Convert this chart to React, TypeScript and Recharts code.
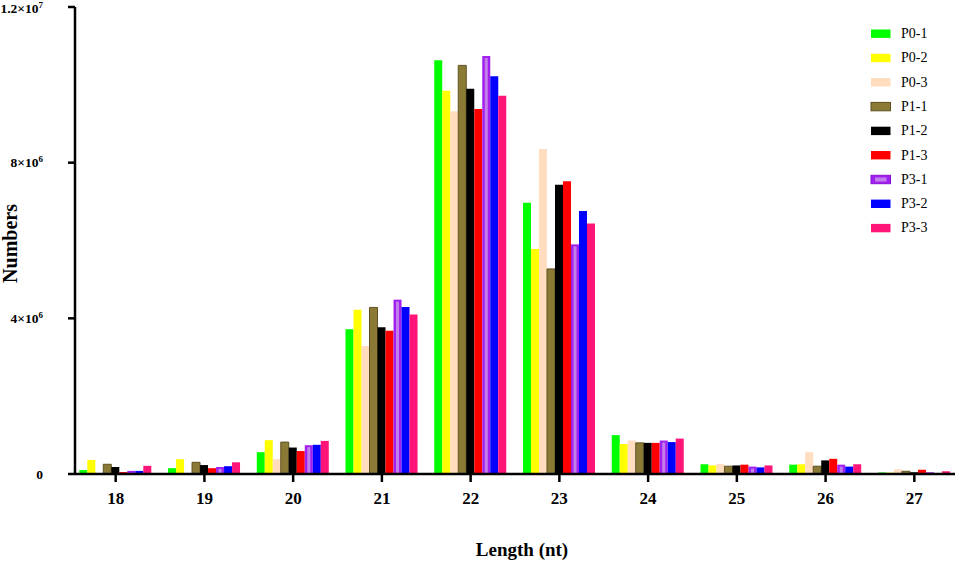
import React from 'react';
import { BarChart, Bar, XAxis, YAxis } from 'recharts';

// 길이별(nt) small RNA read 수 - 샘플 9개
const LENGTHS = ['18', '19', '20', '21', '22', '23', '24', '25', '26', '27'];

const P0_1 = [100000, 150000, 560000, 3720000, 10630000, 6970000, 1000000, 250000, 240000, 40000];
const P0_2 = [360000, 380000, 870000, 4220000, 9850000, 5780000, 770000, 220000, 250000, 35000];
const P0_3 = [10000, 10000, 380000, 3290000, 9320000, 8350000, 860000, 260000, 560000, 120000];
const P1_1 = [250000, 300000, 820000, 4280000, 10500000, 5270000, 800000, 200000, 200000, 70000];
const P1_2 = [180000, 230000, 680000, 3770000, 9900000, 7430000, 800000, 220000, 350000, 45000];
const P1_3 = [50000, 150000, 590000, 3680000, 9380000, 7520000, 800000, 240000, 390000, 110000];
const P3_1 = [80000, 180000, 740000, 4480000, 10740000, 5900000, 860000, 190000, 240000, 45000];
const P3_2 = [80000, 200000, 750000, 4290000, 10220000, 6760000, 820000, 170000, 190000, 20000];
const P3_3 = [210000, 300000, 850000, 4100000, 9720000, 6440000, 910000, 220000, 250000, 70000];

const SERIES = [
  { key: 'P0-1', values: P0_1, color: '#00FF00' },
  { key: 'P0-2', values: P0_2, color: '#FFFF00' },
  { key: 'P0-3', values: P0_3, color: '#FFDDBE' },
  { key: 'P1-1', values: P1_1, color: '#8B7A36' },
  { key: 'P1-2', values: P1_2, color: '#000000' },
  { key: 'P1-3', values: P1_3, color: '#FF0000' },
  { key: 'P3-1', values: P3_1, color: '#A020F0' },
  { key: 'P3-2', values: P3_2, color: '#0000FF' },
  { key: 'P3-3', values: P3_3, color: '#FF1478' },
];

const Y_TICKS = [0, 4000000, 8000000, 12000000];

const data = LENGTHS.map((len, i) => {
  const row: any = { length: len };
  SERIES.forEach((s) => { row[s.key] = s.values[i]; });
  return row;
});

const FONT = '"Liberation Serif", "Times New Roman", serif';

const YTick = (props: any) => {
  const { x, y, payload } = props;
  const v = payload.value;
  let body: React.ReactNode = '0';
  if (v === 4000000) body = <>4×10<tspan dy={-5} fontSize={9}>6</tspan></>;
  if (v === 8000000) body = <>8×10<tspan dy={-5} fontSize={9}>6</tspan></>;
  if (v === 12000000) body = <>1.2×10<tspan dy={-5} fontSize={9}>7</tspan></>;
  return (
    <text x={x} y={y + (v === 12000000 ? 5.5 : 4.5)} textAnchor="end" fontFamily={FONT} fontSize={13.5} fontWeight="bold" fill="#000">
      {body}
    </text>
  );
};

const XTick = (props: any) => {
  const { x, y, payload } = props;
  return (
    <text x={x} y={y + 20} textAnchor="middle" fontFamily={FONT} fontSize={17} fontWeight="bold" fill="#000">
      {payload.value}
    </text>
  );
};

// P3-1 막대: 가운데 밝은 줄무늬
const StripeBar = (props: any) => {
  const { x, y, width, height, fill } = props;
  if (!height || height <= 0) return null;
  const inner = height > 3 ? (
    <rect x={x + 2.5} y={y + 2} width={Math.max(width - 5, 0)} height={height - 2} fill="#C47EEA" />
  ) : null;
  return (
    <g>
      <rect x={x} y={y} width={width} height={height} fill={fill} />
      {inner}
    </g>
  );
};

const ChartLegend = () => (
  <svg width={90} height={240} style={{ position: 'absolute', left: 866, top: 0 }}>
    {SERIES.map((s, i) => (
      <g key={s.key}>
        <rect
          x={5}
          y={29.5 + i * 24.3}
          width={19.5}
          height={8.4}
          fill={s.color}
          stroke={s.key === 'P1-1' ? '#5E5020' : s.key === 'P3-1' ? '#8A10D0' : 'none'}
        />
        {s.key === 'P3-1' ? <rect x={9} y={31.7 + i * 24.3} width={11.5} height={4} fill="#C47EEA" /> : null}
        <text x={35} y={38 + i * 24.3} fontFamily={FONT} fontSize={14} fill="#000">
          {s.key}
        </text>
      </g>
    ))}
  </svg>
);

export default function App() {
  return (
    <div style={{ position: 'absolute', left: 0, top: 0, width: 957, height: 564, background: '#fff' }}>
      <BarChart
        width={957}
        height={564}
        data={data}
        margin={{ top: 7, right: 2, bottom: 0, left: 0 }}
        barGap={0}
        barSize={8}
      >
        <XAxis
          dataKey="length"
          height={90}
          padding={{ left: -3.7, right: -3.7 }}
          axisLine={{ stroke: '#000', strokeWidth: 2.5 }}
          tickLine={{ stroke: '#000', strokeWidth: 2.5 }}
          tickSize={8}
          tick={<XTick />}
          label={{
            value: 'Length (nt)',
            position: 'insideBottom',
            offset: 8,
            dx: 7,
            style: { fontFamily: FONT, fontSize: 19, fontWeight: 'bold', fill: '#000' },
          }}
        />
        <YAxis
          width={75}
          domain={[0, 12000000]}
          ticks={Y_TICKS}
          interval={0}
          axisLine={{ stroke: '#000', strokeWidth: 2.5 }}
          tickLine={{ stroke: '#000', strokeWidth: 2.5 }}
          tickSize={7}
          tickMargin={25}
          tick={<YTick />}
          label={{
            value: 'Numbers',
            angle: -90,
            position: 'insideLeft',
            offset: 10,
            dy: 3,
            style: { fontFamily: FONT, fontSize: 20, fontWeight: 'bold', fill: '#000', textAnchor: 'middle' },
          }}
        />
        {SERIES.map((s) => (
          <Bar
            key={s.key}
            dataKey={s.key}
            name={s.key}
            fill={s.color}
            stroke={s.key === 'P1-1' ? '#5E5020' : undefined}
            strokeWidth={s.key === 'P1-1' ? 1 : 0}
            shape={s.key === 'P3-1' ? <StripeBar /> : undefined}
            isAnimationActive={false}
          />
        ))}
      </BarChart>
      <ChartLegend />
    </div>
  );
}
